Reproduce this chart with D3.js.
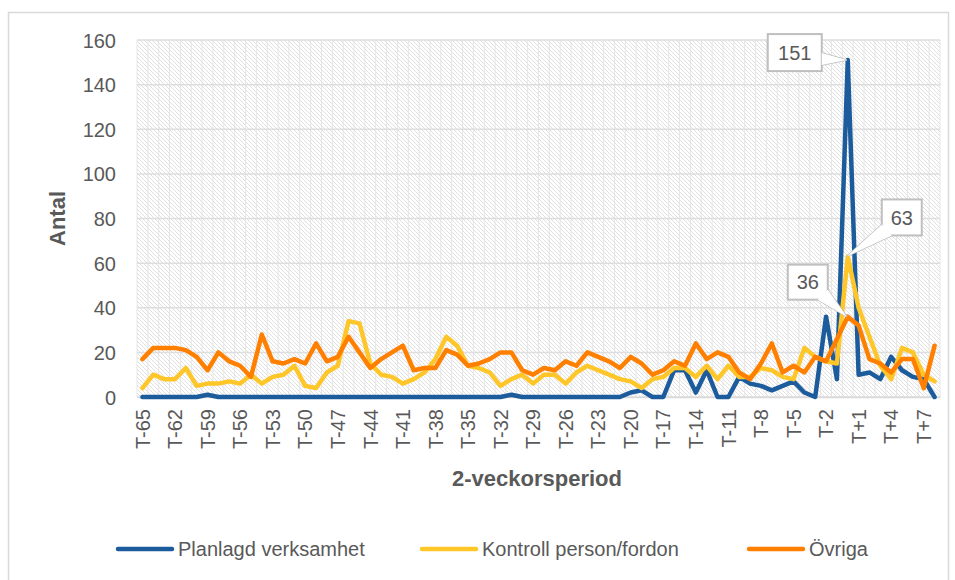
<!DOCTYPE html>
<html>
<head>
<meta charset="utf-8">
<script src="https://cdn.jsdelivr.net/npm/d3@7"></script>
<style>
  html, body { margin: 0; padding: 0; background: #fff; }
  svg { display: block; font-family: "Liberation Sans", Arial, sans-serif; }
</style>
</head>
<body>
<div id="chart"></div>
<script>
// categories (2-week periods)
const categories = [
  "T-65","T-64","T-63","T-62","T-61","T-60","T-59","T-58","T-57","T-56",
  "T-55","T-54","T-53","T-52","T-51","T-50","T-49","T-48","T-47","T-46",
  "T-45","T-44","T-43","T-42","T-41","T-40","T-39","T-38","T-37","T-36",
  "T-35","T-34","T-33","T-32","T-31","T-30","T-29","T-28","T-27","T-26",
  "T-25","T-24","T-23","T-22","T-21","T-20","T-19","T-18","T-17","T-16",
  "T-15","T-14","T-13","T-12","T-11","T-10","T-9","T-8","T-7","T-6",
  "T-5","T-4","T-3","T-2","T-1","T0","T+1","T+2","T+3","T+4",
  "T+5","T+6","T+7","T+8"
];

const planlagd = [
  0, 0, 0, 0, 0, 0, 1, 0, 0, 0,
  0, 0, 0, 0, 0, 0, 0, 0, 0, 0,
  0, 0, 0, 0, 0, 0, 0, 0, 0, 0,
  0, 0, 0, 0, 1, 0, 0, 0, 0, 0,
  0, 0, 0, 0, 0, 2, 3, 0, 0, 12,
  12, 2, 12, 0, 0, 9, 6, 5, 3, 5,
  7, 2, 0, 36, 8, 151, 10, 11, 8, 18,
  12, 9, 8, 0
];

const kontroll = [
  4, 10, 8, 8, 13, 5, 6, 6, 7, 6,
  10, 6, 9, 10, 14, 5, 4, 11, 14, 34,
  33, 15, 10, 9, 6, 8, 11, 17, 27, 23,
  14, 13, 11, 5, 8, 10, 6, 10, 10, 6,
  11, 14, 12, 10, 8, 7, 4, 8, 9, 13,
  13, 9, 14, 8, 14, 9, 9, 13, 12, 9,
  8, 22, 18, 16, 15, 63, 40, 27, 14, 8,
  22, 20, 10, 7
];

const ovriga = [
  17, 22, 22, 22, 21, 18, 12, 20, 16, 14,
  9, 28, 16, 15, 17, 15, 24, 16, 18, 27,
  20, 13, 17, 20, 23, 12, 13, 13, 21, 19,
  14, 15, 17, 20, 20, 12, 10, 13, 12, 16,
  14, 20, 18, 16, 13, 18, 15, 10, 12, 16,
  14, 24, 17, 20, 18, 11, 8, 15, 24, 11,
  14, 11, 18, 16, 26, 36, 32, 17, 15, 11,
  17, 17, 4, 23
];

const seriesNames = ["Planlagd verksamhet", "Kontroll person/fordon", "Övriga"];
const yTicks = [0, 20, 40, 60, 80, 100, 120, 140, 160];
// points that carry a data label: [series index, category]
const labelledPoints = [[0, "T0"], [1, "T0"], [2, "T0"]];

const series = [planlagd, kontroll, ovriga];
const colors = ["#1c5c9c", "#ffc629", "#ff8000"];
const textColor = "#595959";

const W = 955, H = 580;
const plot = {left: 137, right: 940, top: 40, bottom: 397};

const svg = d3.select("#chart").append("svg")
    .attr("width", W)
    .attr("height", H);

// outer chart border
svg.append("rect")
    .attr("x", 8.5).attr("y", 12.5)
    .attr("width", 940).attr("height", 600)
    .attr("fill", "#fff")
    .attr("stroke", "#d9d9d9")
    .attr("stroke-width", 1.5);

// hatch pattern for plot area
const defs = svg.append("defs");
const pat = defs.append("pattern")
    .attr("id", "hatch")
    .attr("patternUnits", "userSpaceOnUse")
    .attr("width", 4).attr("height", 4);
pat.append("rect").attr("width", 4).attr("height", 4).attr("fill", "#fff");
pat.append("path")
    .attr("d", "M-1,-1 L5,5 M-1,3 L1,5 M3,-1 L5,1")
    .attr("stroke", "#e0e0e0")
    .attr("stroke-width", 1);

const x = d3.scaleBand()
    .domain(categories)
    .range([plot.left, plot.right]);

const y = d3.scaleLinear()
    .domain([0, 160])
    .range([plot.bottom, plot.top]);

const cx = c => x(c) + x.bandwidth() / 2;

svg.append("rect")
    .attr("x", plot.left).attr("y", plot.top)
    .attr("width", plot.right - plot.left)
    .attr("height", plot.bottom - plot.top)
    .attr("fill", "url(#hatch)");

// vertical gridlines at category boundaries
const gx = svg.append("g").attr("class", "grid-x");
gx.selectAll("line")
    .data(categories.concat(["end"]))
    .join("line")
    .attr("x1", (d, i) => i < categories.length ? x(d) : plot.right)
    .attr("x2", (d, i) => i < categories.length ? x(d) : plot.right)
    .attr("y1", plot.top).attr("y2", plot.bottom)
    .attr("stroke", "#e6e6e6")
    .attr("stroke-width", 1);

// horizontal gridlines
svg.append("g")
    .selectAll("line")
    .data(yTicks)
    .join("line")
    .attr("x1", plot.left).attr("x2", plot.right)
    .attr("y1", d => y(d)).attr("y2", d => y(d))
    .attr("stroke", "#dedede")
    .attr("stroke-width", 1.5);

// y axis labels
const yAxis = svg.append("g")
    .attr("transform", `translate(${plot.left - 21},0)`)
    .call(d3.axisLeft(y).tickValues(yTicks).tickSize(0).tickPadding(0));
yAxis.select(".domain").remove();
yAxis.selectAll("text")
    .attr("fill", textColor)
    .style("font-size", "20px")
    .attr("dy", "0.35em");

// x axis labels, every third category
const xAxis = svg.append("g")
    .attr("transform", `translate(0,${plot.bottom})`)
    .call(d3.axisBottom(x)
      .tickValues(categories.filter((d, i) => i % 3 === 0))
      .tickSize(0));
xAxis.select(".domain")
    .attr("stroke", "#d9d9d9")
    .attr("stroke-width", 1.5);
xAxis.selectAll("text")
    .attr("fill", textColor)
    .style("font-size", "20px")
    .attr("text-anchor", "end")
    .attr("transform", "rotate(-90)")
    .attr("x", -12)
    .attr("y", 0)
    .attr("dy", "0.36em");

// axis titles
svg.append("text")
    .attr("transform", `translate(65,${(plot.top + plot.bottom) / 2}) rotate(-90)`)
    .attr("text-anchor", "middle")
    .attr("fill", textColor)
    .style("font-size", "22px")
    .style("font-weight", "bold")
    .text("Antal");

svg.append("text")
    .attr("x", 537).attr("y", 486)
    .attr("text-anchor", "middle")
    .attr("fill", textColor)
    .style("font-size", "22px")
    .style("font-weight", "bold")
    .text("2-veckorsperiod");

// lines
const line = d3.line()
    .x((d, i) => cx(categories[i]))
    .y(d => y(d));

svg.append("g")
    .selectAll("path")
    .data(series)
    .join("path")
    .attr("d", line)
    .attr("fill", "none")
    .attr("stroke", (d, i) => colors[i])
    .attr("stroke-width", 4.5)
    .attr("stroke-linejoin", "round")
    .attr("stroke-linecap", "round");

// data label callouts: box offsets relative to the point, wedge base points
const calloutLayout = [
  {box: [-80, -26, -26, 11], base: [[-26, -7], [-26, 5]]},
  {box: [34, -57, 74, -21], base: [[34, -32], [44, -21]]},
  {box: [-60, -52, -20, -17], base: [[-20, -27], [-30, -17]]}
];

const callouts = svg.append("g").attr("class", "callouts");
labelledPoints.forEach(([s, cat], k) => {
  const px = cx(cat), py = y(series[s][categories.indexOf(cat)]);
  const L = calloutLayout[k];
  const [bx0, by0, bx1, by1] = L.box;
  const b1 = [px + L.base[0][0], py + L.base[0][1]];
  const b2 = [px + L.base[1][0], py + L.base[1][1]];
  const wedge = `M${b1}L${px - 1},${py}L${b2}Z`;
  callouts.append("path")
      .attr("d", wedge)
      .attr("fill", "#fff")
      .attr("stroke", "#bfbfbf")
      .attr("stroke-width", 1.5);
  callouts.append("rect")
      .attr("x", px + bx0).attr("y", py + by0)
      .attr("width", bx1 - bx0).attr("height", by1 - by0)
      .attr("fill", "#fff")
      .attr("stroke", "#bfbfbf")
      .attr("stroke-width", 2);
  // cover the box edge where the wedge joins
  callouts.append("path")
      .attr("d", wedge)
      .attr("fill", "#fff")
      .attr("stroke", "none");
  callouts.append("text")
      .attr("x", px + (bx0 + bx1) / 2)
      .attr("y", py + (by0 + by1) / 2)
      .attr("dy", "0.36em")
      .attr("text-anchor", "middle")
      .attr("fill", textColor)
      .style("font-size", "20px")
      .text(d3.format("d")(series[s][categories.indexOf(cat)]));
});

// legend
const legendPos = [118, 422, 749];
const legend = svg.append("g").attr("transform", "translate(0,549)");
seriesNames.forEach((name, i) => {
  legend.append("line")
      .attr("x1", legendPos[i]).attr("x2", legendPos[i] + 54)
      .attr("y1", 0).attr("y2", 0)
      .attr("stroke", colors[i])
      .attr("stroke-width", 4.5)
      .attr("stroke-linecap", "round");
  legend.append("text")
      .attr("x", legendPos[i] + 60)
      .attr("y", 0)
      .attr("dy", "0.35em")
      .attr("fill", textColor)
      .style("font-size", "20px")
      .text(name);
});
</script>
</body>
</html>
